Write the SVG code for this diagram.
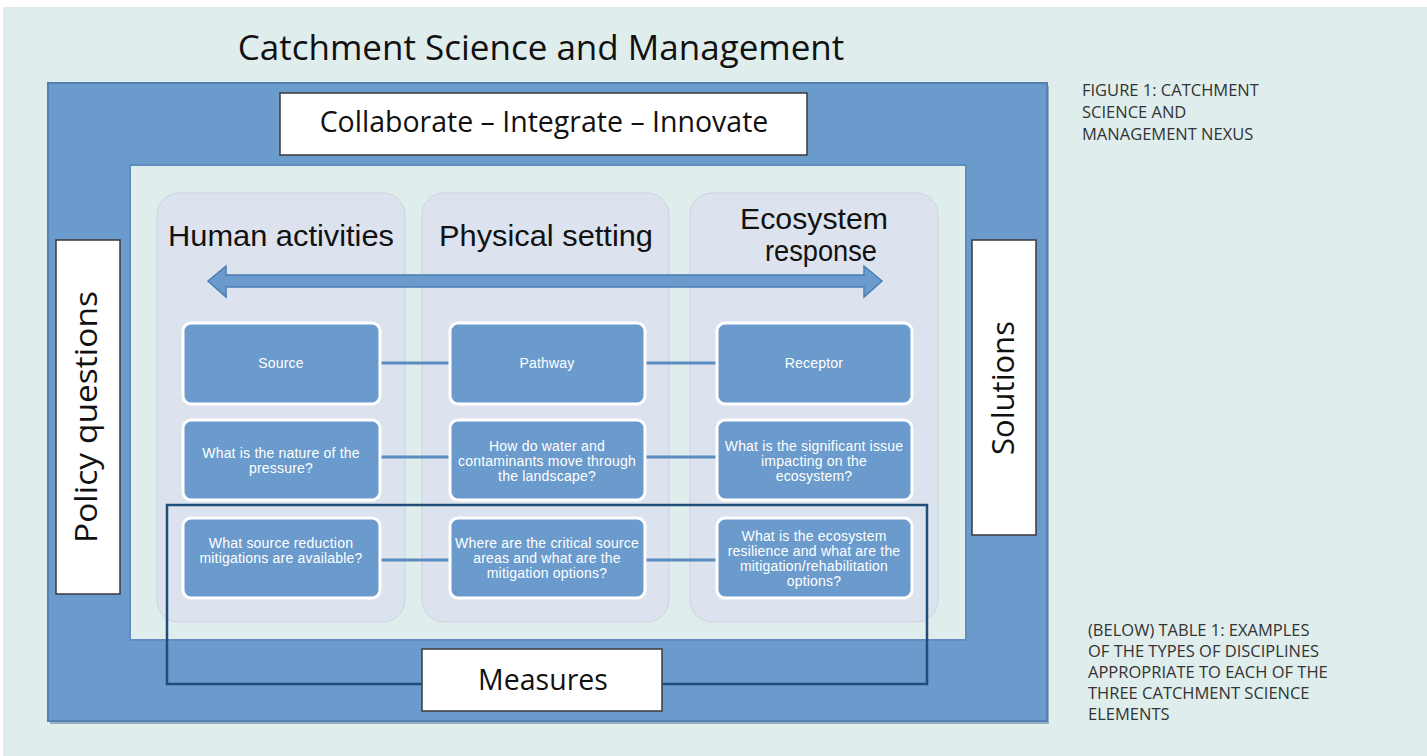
<svg xmlns="http://www.w3.org/2000/svg" width="1427" height="756" viewBox="0 0 1427 756">
<style>
.bg{fill:#dfeded}
.title{font-family:"Open Sans","Liberation Sans",sans-serif;fill:#111}
.wbox{fill:#ffffff;stroke:#3a3a3a;stroke-width:1.5}
.col{fill:#dce3ee;stroke:#c9d3e0;stroke-width:1}
.nbox{fill:#6a9bcc;stroke:#ffffff;stroke-width:3}
.ntext{font-family:"Liberation Sans",Arial,sans-serif;font-size:14px;letter-spacing:0.2px;fill:#ffffff;text-anchor:middle}
.head{font-family:"Liberation Sans",Arial,sans-serif;font-size:30px;fill:#111;text-anchor:middle}
.cap{font-family:"Open Sans","Liberation Sans",sans-serif;font-size:16.5px;fill:#333}
.conn{stroke:#5a8cc2;stroke-width:3;fill:none}
</style>
<rect x="0" y="0" width="1427" height="756" fill="#ffffff"/>
<rect class="bg" x="3" y="7" width="1424" height="749"/>
<text class="title" x="541" y="60" font-size="35" text-anchor="middle">Catchment Science and Management</text>

<g id="outer">
<rect x="50" y="86" width="999" height="638" fill="#4d6f96" opacity="0.5"/>
<rect x="48" y="83" width="999" height="638" fill="#6a9bcc" stroke="#5580b0" stroke-width="2"/>
</g>
<g id="collaborate">
<rect x="280" y="93" width="527" height="62" class="wbox"/>
<text class="title" x="544" y="132" font-size="28.5" text-anchor="middle">Collaborate – Integrate – Innovate</text>
</g>
<g id="inner">
<rect x="130" y="165" width="836" height="475" fill="#dfeded" stroke="#5f8dbd" stroke-width="2"/>
</g>
<g id="col-human">
<rect class="col" x="157" y="193" width="248" height="429" rx="22"/>
<text class="head" x="281" y="246" textLength="226" lengthAdjust="spacingAndGlyphs">Human activities</text>
</g>
<g id="col-physical">
<rect class="col" x="422" y="193" width="247" height="429" rx="22"/>
<text class="head" x="546" y="246" textLength="214" lengthAdjust="spacingAndGlyphs">Physical setting</text>
</g>
<g id="col-ecosystem">
<rect class="col" x="690" y="193" width="248" height="429" rx="22"/>
<text class="head" x="814" y="229" textLength="148" lengthAdjust="spacingAndGlyphs">Ecosystem</text>
<text class="head" x="821" y="261" textLength="112" lengthAdjust="spacingAndGlyphs">response</text>
</g>
<g id="arrow">
<polygon points="208,281 226,266 226,275 864,275 864,266 882,281 864,297 864,287 226,287 226,297" fill="#6a9bcc" stroke="#4a7db3" stroke-width="1.5"/>
</g>
<g id="connectors">
<line class="conn" x1="380" y1="363" x2="450" y2="363"/>
<line class="conn" x1="645" y1="363" x2="717" y2="363"/>
<line class="conn" x1="380" y1="457" x2="450" y2="457"/>
<line class="conn" x1="645" y1="457" x2="717" y2="457"/>
<line class="conn" x1="380" y1="560" x2="450" y2="560"/>
<line class="conn" x1="645" y1="560" x2="717" y2="560"/>
</g>
<g id="source">
<rect class="nbox" x="183" y="323" width="197" height="81" rx="8"/>
<text class="ntext" x="281" y="368">Source</text>
</g>
<g id="pathway">
<rect class="nbox" x="450" y="323" width="195" height="81" rx="8"/>
<text class="ntext" x="547" y="368">Pathway</text>
</g>
<g id="receptor">
<rect class="nbox" x="717" y="323" width="195" height="81" rx="8"/>
<text class="ntext" x="814" y="368">Receptor</text>
</g>
<g id="q-pressure">
<rect class="nbox" x="183" y="420" width="197" height="80" rx="8"/>
<text class="ntext" x="281" y="458">What is the nature of the</text>
<text class="ntext" x="281" y="473">pressure?</text>
</g>
<g id="q-move">
<rect class="nbox" x="450" y="420" width="195" height="80" rx="8"/>
<text class="ntext" x="547" y="451">How do water and</text>
<text class="ntext" x="547" y="466">contaminants move through</text>
<text class="ntext" x="547" y="481">the landscape?</text>
</g>
<g id="q-issue">
<rect class="nbox" x="717" y="420" width="195" height="80" rx="8"/>
<text class="ntext" x="814" y="451">What is the significant issue</text>
<text class="ntext" x="814" y="466">impacting on the</text>
<text class="ntext" x="814" y="481">ecosystem?</text>
</g>
<g id="q-reduction">
<rect class="nbox" x="183" y="518" width="197" height="80" rx="8"/>
<text class="ntext" x="281" y="548">What source reduction</text>
<text class="ntext" x="281" y="563">mitigations are available?</text>
</g>
<g id="q-critical">
<rect class="nbox" x="450" y="518" width="195" height="80" rx="8"/>
<text class="ntext" x="547" y="548">Where are the critical source</text>
<text class="ntext" x="547" y="563">areas and what are the</text>
<text class="ntext" x="547" y="578">mitigation options?</text>
</g>
<g id="q-resilience">
<rect class="nbox" x="717" y="518" width="195" height="80" rx="8"/>
<text class="ntext" x="814" y="541">What is the ecosystem</text>
<text class="ntext" x="814" y="556">resilience and what are the</text>
<text class="ntext" x="814" y="571">mitigation/rehabilitation</text>
<text class="ntext" x="814" y="586">options?</text>
</g>
<g id="measures-frame">
<polyline points="422,684 167,684 167,505 927,505 927,684 662,684" fill="none" stroke="#1f4e79" stroke-width="2.5"/>
</g>
<g id="measures">
<rect x="422" y="649" width="240" height="62" class="wbox"/>
<text class="title" x="543" y="690" font-size="28.5" text-anchor="middle">Measures</text>
</g>
<g id="policy">
<rect x="56" y="240" width="64" height="354" class="wbox"/>
<text class="title" font-size="31" text-anchor="middle" textLength="252" lengthAdjust="spacingAndGlyphs" transform="translate(97,417) rotate(-90)">Policy questions</text>
</g>
<g id="solutions">
<rect x="972" y="240" width="64" height="295" class="wbox"/>
<text class="title" font-size="31" text-anchor="middle" transform="translate(1014,388) rotate(-90)">Solutions</text>
</g>
<g id="caption1">
<text class="cap" x="1082" y="96">FIGURE 1: CATCHMENT</text>
<text class="cap" x="1082" y="118">SCIENCE AND</text>
<text class="cap" x="1082" y="140">MANAGEMENT NEXUS</text>
</g>
<g id="caption2">
<text class="cap" x="1088" y="636">(BELOW) TABLE 1: EXAMPLES</text>
<text class="cap" x="1088" y="657">OF THE TYPES OF DISCIPLINES</text>
<text class="cap" x="1088" y="678">APPROPRIATE TO EACH OF THE</text>
<text class="cap" x="1088" y="699">THREE CATCHMENT SCIENCE</text>
<text class="cap" x="1088" y="720">ELEMENTS</text>
</g>
</svg>
